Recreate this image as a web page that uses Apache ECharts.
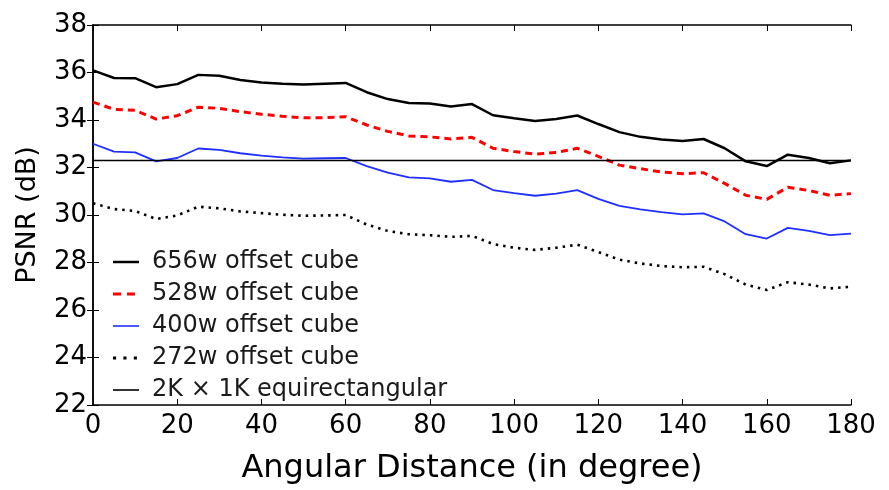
<!DOCTYPE html>
<html>
<head>
<meta charset="utf-8">
<script src="https://cdn.jsdelivr.net/npm/echarts@6/dist/echarts.min.js"></script>
<style>html,body{margin:0;padding:0;background:#fff}#c{width:889px;height:490px}</style>
</head>
<body>
<div id="c"></div>
<script>
var angles = [0,5,10,15,20,25,30,35,40,45,50,55,60,65,70,75,80,85,90,95,100,105,110,115,120,125,130,135,140,145,150,155,160,165,170,175,180];
var psnr656 = [36.09,35.77,35.76,35.38,35.51,35.9,35.86,35.68,35.58,35.53,35.49,35.53,35.56,35.17,34.88,34.72,34.69,34.57,34.67,34.2,34.07,33.96,34.04,34.19,33.83,33.49,33.29,33.18,33.12,33.2,32.81,32.26,32.06,32.54,32.4,32.18,32.3];
var psnr528 = [34.75,34.45,34.41,34.04,34.18,34.54,34.49,34.35,34.24,34.16,34.09,34.1,34.14,33.79,33.52,33.33,33.29,33.2,33.27,32.81,32.67,32.56,32.63,32.81,32.47,32.1,31.95,31.81,31.74,31.78,31.33,30.83,30.66,31.17,31.03,30.83,30.9];
var psnr400 = [33.0,32.67,32.64,32.26,32.4,32.8,32.74,32.6,32.5,32.43,32.37,32.39,32.4,32.06,31.78,31.58,31.54,31.4,31.48,31.05,30.92,30.81,30.9,31.05,30.68,30.38,30.24,30.12,30.03,30.07,29.73,29.19,29.01,29.46,29.33,29.15,29.22];
var psnr272 = [30.49,30.25,30.17,29.83,29.98,30.35,30.28,30.15,30.08,30.01,29.97,29.98,30.0,29.6,29.33,29.19,29.15,29.08,29.12,28.78,28.62,28.53,28.62,28.75,28.44,28.12,27.96,27.85,27.8,27.82,27.51,27.07,26.84,27.17,27.07,26.91,26.98];
var equirectAngles = [0,180];
var equirectValues = [32.3,32.3];
var seriesNames = ['656w offset cube','528w offset cube','400w offset cube','272w offset cube','2K \u00d7 1K equirectangular'];
var xTicks = {min:0,max:180,interval:20};
var yTicks = {min:22,max:38,interval:2};

function pairs(xs, ys){ return xs.map(function(x,i){ return [x, ys[i]]; }); }

var solidIcon = 'path://M0,0h26v2.5h-26z';
var thinIcon = 'path://M0,0h26v1.6h-26z';
var dashIcon = 'path://M0,0h8v3h-8z M14,0h8v3h-8z M26,0h0.01v3h-0.01z';
var dotIcon = 'path://M1,0h3v3h-3z M11,0h3v3h-3z M21,0h3v3h-3z M26,0h0.01v3h-0.01z';

var chart = echarts.init(document.getElementById('c'), null, {renderer:'canvas'});
var font = 'DejaVu Sans';
var axisCommon = {
  axisLine:{show:true, lineStyle:{color:'#000', width:1.5}},
  axisTick:{show:true, inside:true, length:6, lineStyle:{color:'#000', width:1}},
  splitLine:{show:false}
};
chart.setOption({
  animation:false,
  backgroundColor:'#fff',
  grid:{left:93, right:38, top:25, bottom:75, show:false},
  legend:{
    orient:'vertical', left:108, top:245,
    itemWidth:26, itemHeight:14, itemGap:8,
    textStyle:{fontFamily:font, fontSize:24, color:'#1a1a1a', lineHeight:24, padding:[0,0,0,8]},
    data:[
      {name:seriesNames[0], icon:solidIcon, itemStyle:{color:'#000'}},
      {name:seriesNames[1], icon:dashIcon, itemStyle:{color:'#ff0000'}},
      {name:seriesNames[2], icon:thinIcon, itemStyle:{color:'#1f2fff'}},
      {name:seriesNames[3], icon:dotIcon, itemStyle:{color:'#000'}},
      {name:seriesNames[4], icon:thinIcon, itemStyle:{color:'#000'}}
    ]
  },
  xAxis:[
    Object.assign({type:'value', min:xTicks.min, max:xTicks.max, interval:xTicks.interval,
      name:'Angular Distance (in degree)', nameLocation:'middle', nameGap:48,
      nameTextStyle:{fontFamily:font, fontSize:32, color:'#000'},
      axisLabel:{fontFamily:font, fontSize:26, color:'#000', margin:8}}, axisCommon),
    Object.assign({type:'value', position:'top', min:xTicks.min, max:xTicks.max, interval:xTicks.interval,
      axisLabel:{show:false}}, axisCommon)
  ],
  yAxis:[
    Object.assign({type:'value', min:yTicks.min, max:yTicks.max, interval:yTicks.interval,
      name:'PSNR (dB)', nameLocation:'middle', nameGap:52,
      nameTextStyle:{fontFamily:font, fontSize:27, color:'#000'},
      axisLabel:{fontFamily:font, fontSize:26, color:'#000', margin:6}}, axisCommon),
    Object.assign({type:'value', position:'right', min:yTicks.min, max:yTicks.max, interval:yTicks.interval,
      axisLabel:{show:false}}, axisCommon)
  ],
  series:[
    {name:seriesNames[0], type:'line', symbol:'none', data:pairs(angles, psnr656),
      lineStyle:{color:'#000', width:2.5}, itemStyle:{color:'#000'}},
    {name:seriesNames[1], type:'line', symbol:'none', data:pairs(angles, psnr528),
      lineStyle:{color:'#ff0000', width:3, type:[7,5]}, itemStyle:{color:'#ff0000'}},
    {name:seriesNames[2], type:'line', symbol:'none', data:pairs(angles, psnr400),
      lineStyle:{color:'#1f2fff', width:1.8}, itemStyle:{color:'#1f2fff'}},
    {name:seriesNames[3], type:'line', symbol:'none', data:pairs(angles, psnr272),
      lineStyle:{color:'#000', width:2.6, type:[2.5,5]}, itemStyle:{color:'#000'}},
    {name:seriesNames[4], type:'line', symbol:'none', data:pairs(equirectAngles, equirectValues),
      lineStyle:{color:'#000', width:1.5}, itemStyle:{color:'#000'}}
  ]
});
</script>
</body>
</html>
